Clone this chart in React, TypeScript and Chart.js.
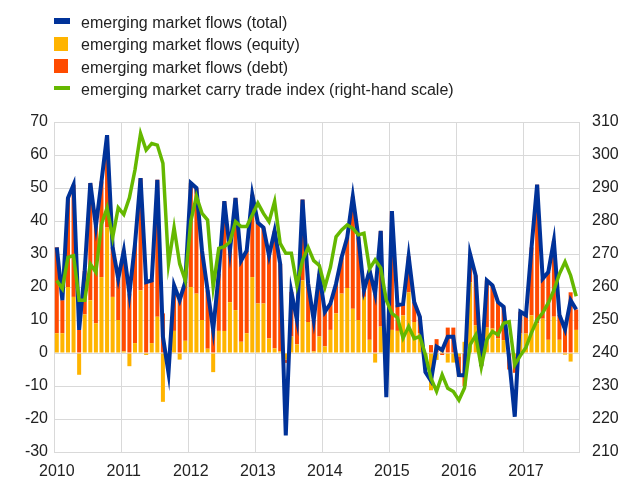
import React, { useEffect, useRef } from 'react';
import { Chart, registerables } from 'chart.js';

Chart.register(...registerables);

const FONT = "'Liberation Sans', Arial, Helvetica, sans-serif";
const BLUE = '#003299';
const YELLOW = '#ffb400';
const ORANGE = '#ff4b00';
const GREEN = '#65b800';
const GRID = '#d9d9d9';
const TEXT = '#222222';

const startYear = 2010;
const monthCount = 94;
const months: string[] = Array.from(
  { length: monthCount },
  (_, i) => `${startYear + Math.floor(i / 12)}-${String((i % 12) + 1).padStart(2, '0')}`
);

const totalFlows = [
  32, 16, 47, 51, 7, 25, 51.5, 38.5, 52, 66, 32, 22.5,
  31, 18, 33, 53, 21.5, 22, 52.5, 5, -6, 20.5, 16, 21.5,
  51.5, 50, 31, 19, 7, 24, 46, 31, 47, 28, 31, 48,
  39.5, 38, 29.5, 37, 27, -25, 18.5, 10, 46.5, 21, 10, 24,
  12.5, 15, 21, 29, 35, 47.4, 35, 19, 25, 18, 37, -13.4,
  43, 14.5, 14.8, 29.3, 15.4, 11, -5.8, -8.4, 1.9, 0.9, 4.9, 4.9,
  -6.7, -6.8, 30, 23.5, -4, 22, 20.5, 15.4, 14, -2, -19.3, 12.5,
  11.5, 32, 51, 22.5, 24.5, 34, 11.5, 7.2, 16, 13.2,
];

const equityFlows = [
  6, 6, 20, 17, -6.6, 11.7, 16, 9, 23, 38, 17, 10,
  0.5, -4, 3, 19, -0.6, 3, 11, -14.8, -1, 6.7, -2, 3.7,
  20, 18, 10, 1.3, -5.8, 6.7, 6.7, 15.4, 13, 3.4, 6, 23,
  15, 15, 4.4, 1.4, 0.5, -2, 5, 2.6, 22, 9.4, 0.5, 5,
  2, 7, 12, 18, 19.7, 13.4, 10, 17, 4, -2.9, 8, 1,
  7, 6.7, 11.4, 18.4, 9.4, 6, -1, -11.3, -2.1, 1, -2.9, -2.9,
  -1, 3.4, 21.4, 8.4, 0, 7.7, 7.4, 4.4, 3.9, 0, -1, 5.9,
  5.9, 11.4, 9, 10.4, 4, 11, 4, -0.5, -2.6, 7,
];

const debtFlows = [
  26, 10, 27, 34, 7, 13.3, 35.5, 29.5, 29, 28, 15, 12.5,
  30.5, 18, 30, 34, 21.5, 19, 41.5, 12, -2, 13.8, 16, 17.8,
  31.5, 32, 21, 17.7, 7, 17.3, 39.3, 15.6, 34, 24.6, 25, 25,
  24.5, 23, 25.1, 35.6, 26.5, -1, 13.5, 7.4, 24.5, 11.6, 9.5, 19,
  10.5, 8, 9, 11, 15.3, 34, 25, 2, 21, 18, 29, -2,
  36, 7.8, 3.4, 10.9, 6, 5, -2, 2.4, 4.2, -0.6, 7.7, 7.7,
  -6, -10, 8.6, 15.1, -4, 14.3, 13.1, 11, 10.1, -5, -5, 6.6,
  5.6, 20.6, 42, 12.1, 20.5, 23, 7.5, 7.2, 18.4, 6.2,
];

const carryIndex = [
  262, 259.5, 269, 269.5, 256, 256, 267, 264.5, 279, 284, 275, 284,
  282, 287, 295.5, 306.5, 301.5, 303.5, 303, 297.5, 267, 278, 267, 262,
  280, 287.5, 282.3, 280.3, 260, 271.7, 272.2, 273.7, 279.8, 278.3, 278.3, 281.8,
  285.4, 282.3, 279.8, 285.9, 273.2, 270.2, 270.2, 260.5, 268, 272, 268, 266.5,
  260, 266, 275.2, 277.3, 278.8, 277.8, 275.8, 276.3, 265.5, 268.2, 265.8, 256,
  252, 250.7, 244.5, 248, 244.4, 245, 239.5, 232.3, 228.4, 233.4, 229.3, 228.3,
  225.7, 229.4, 242.5, 245.4, 235.7, 244, 246.5, 245.5, 249, 249.5, 236.4, 239.2,
  241.7, 246.2, 250, 252.2, 255.2, 259, 264, 267.6, 263.5, 257.2,
];

const legendItems = [
  { label: 'emerging market flows (total)', color: BLUE, kind: 'line', h: 6 },
  { label: 'emerging market flows (equity)', color: YELLOW, kind: 'box', h: 14 },
  { label: 'emerging market flows (debt)', color: ORANGE, kind: 'box', h: 14 },
  { label: 'emerging market carry trade index (right-hand scale)', color: GREEN, kind: 'line', h: 4 },
];

export default function App() {
  const ref = useRef<HTMLCanvasElement>(null);

  useEffect(() => {
    if (!ref.current) return;
    Chart.defaults.font.family = FONT;
    const tickFont = { family: FONT, size: 16 };
    const chart = new Chart(ref.current, {
      type: 'bar',
      data: {
        labels: months,
        datasets: [
          {
            type: 'line',
            label: 'emerging market carry trade index (right-hand scale)',
            data: carryIndex,
            yAxisID: 'y1',
            borderColor: GREEN,
            backgroundColor: GREEN,
            borderWidth: 3.5,
            pointRadius: 0,
            tension: 0,
            fill: false,
          },
          {
            type: 'line',
            label: 'emerging market flows (total)',
            data: totalFlows,
            yAxisID: 'y',
            borderColor: BLUE,
            backgroundColor: BLUE,
            borderWidth: 4,
            pointRadius: 0,
            tension: 0,
            fill: false,
          },
          {
            type: 'bar',
            label: 'emerging market flows (equity)',
            data: equityFlows,
            yAxisID: 'y',
            stack: 'flows',
            backgroundColor: YELLOW,
            categoryPercentage: 1,
            barPercentage: 0.72,
          },
          {
            type: 'bar',
            label: 'emerging market flows (debt)',
            data: debtFlows,
            yAxisID: 'y',
            stack: 'flows',
            backgroundColor: ORANGE,
            categoryPercentage: 1,
            barPercentage: 0.72,
          },
        ] as any,
      },
      options: {
        responsive: false,
        animation: false,
        devicePixelRatio: 1,
        layout: { padding: { top: 122, left: 0, right: 0, bottom: 0 } },
        plugins: { legend: { display: false }, tooltip: { enabled: false } },
        scales: {
          x: {
            type: 'category',
            offset: true,
            grid: {
              offset: true,
              drawTicks: false,
              lineWidth: 1,
              color: (ctx: any) =>
                ctx.type !== 'tick' || ctx.index % 12 === 0 ? GRID : 'rgba(0,0,0,0)',
            },
            border: { color: GRID },
            ticks: {
              autoSkip: false,
              maxRotation: 0,
              minRotation: 0,
              padding: 10,
              color: TEXT,
              font: tickFont,
              callback: (_v: any, i: number) => (i % 12 === 0 ? months[i].slice(0, 4) : ''),
            },
            afterFit: (s: any) => {
              s.height = 27;
            },
          },
          y: {
            position: 'left',
            min: -30,
            max: 70,
            ticks: { stepSize: 10, padding: 6, color: TEXT, font: tickFont },
            grid: { color: GRID, lineWidth: 1, drawTicks: false },
            border: { color: GRID },
            afterFit: (s: any) => {
              s.width = 54;
            },
          },
          y1: {
            position: 'right',
            min: 210,
            max: 310,
            ticks: { stepSize: 10, padding: 13, color: TEXT, font: tickFont },
            grid: { display: false, drawTicks: false },
            border: { color: GRID },
            afterFit: (s: any) => {
              s.width = 51;
            },
          },
        } as any,
      },
    });
    return () => chart.destroy();
  }, []);

  return (
    <div
      style={{
        position: 'absolute',
        left: 0,
        top: 0,
        width: 630,
        height: 479,
        background: '#ffffff',
        fontFamily: FONT,
        overflow: 'hidden',
      }}
    >
      <canvas
        ref={ref}
        width={630}
        height={479}
        style={{ position: 'absolute', left: 0, top: 0, width: 630, height: 479 }}
      />
      {legendItems.map((it, i) => {
        const rowTop = 14 + i * 22.3;
        const centerY = rowTop + 7.5;
        const w = it.kind === 'line' ? 16 : 14;
        return (
          <React.Fragment key={it.label}>
            <div
              style={{
                position: 'absolute',
                left: 54,
                top: centerY - it.h / 2 + (it.kind === 'box' ? 0 : -0.5),
                width: w,
                height: it.h,
                background: it.color,
              }}
            />
            <div
              style={{
                position: 'absolute',
                left: 81,
                top: rowTop,
                fontSize: 16,
                lineHeight: '18px',
                color: TEXT,
                whiteSpace: 'nowrap',
              }}
            >
              {it.label}
            </div>
          </React.Fragment>
        );
      })}
    </div>
  );
}
